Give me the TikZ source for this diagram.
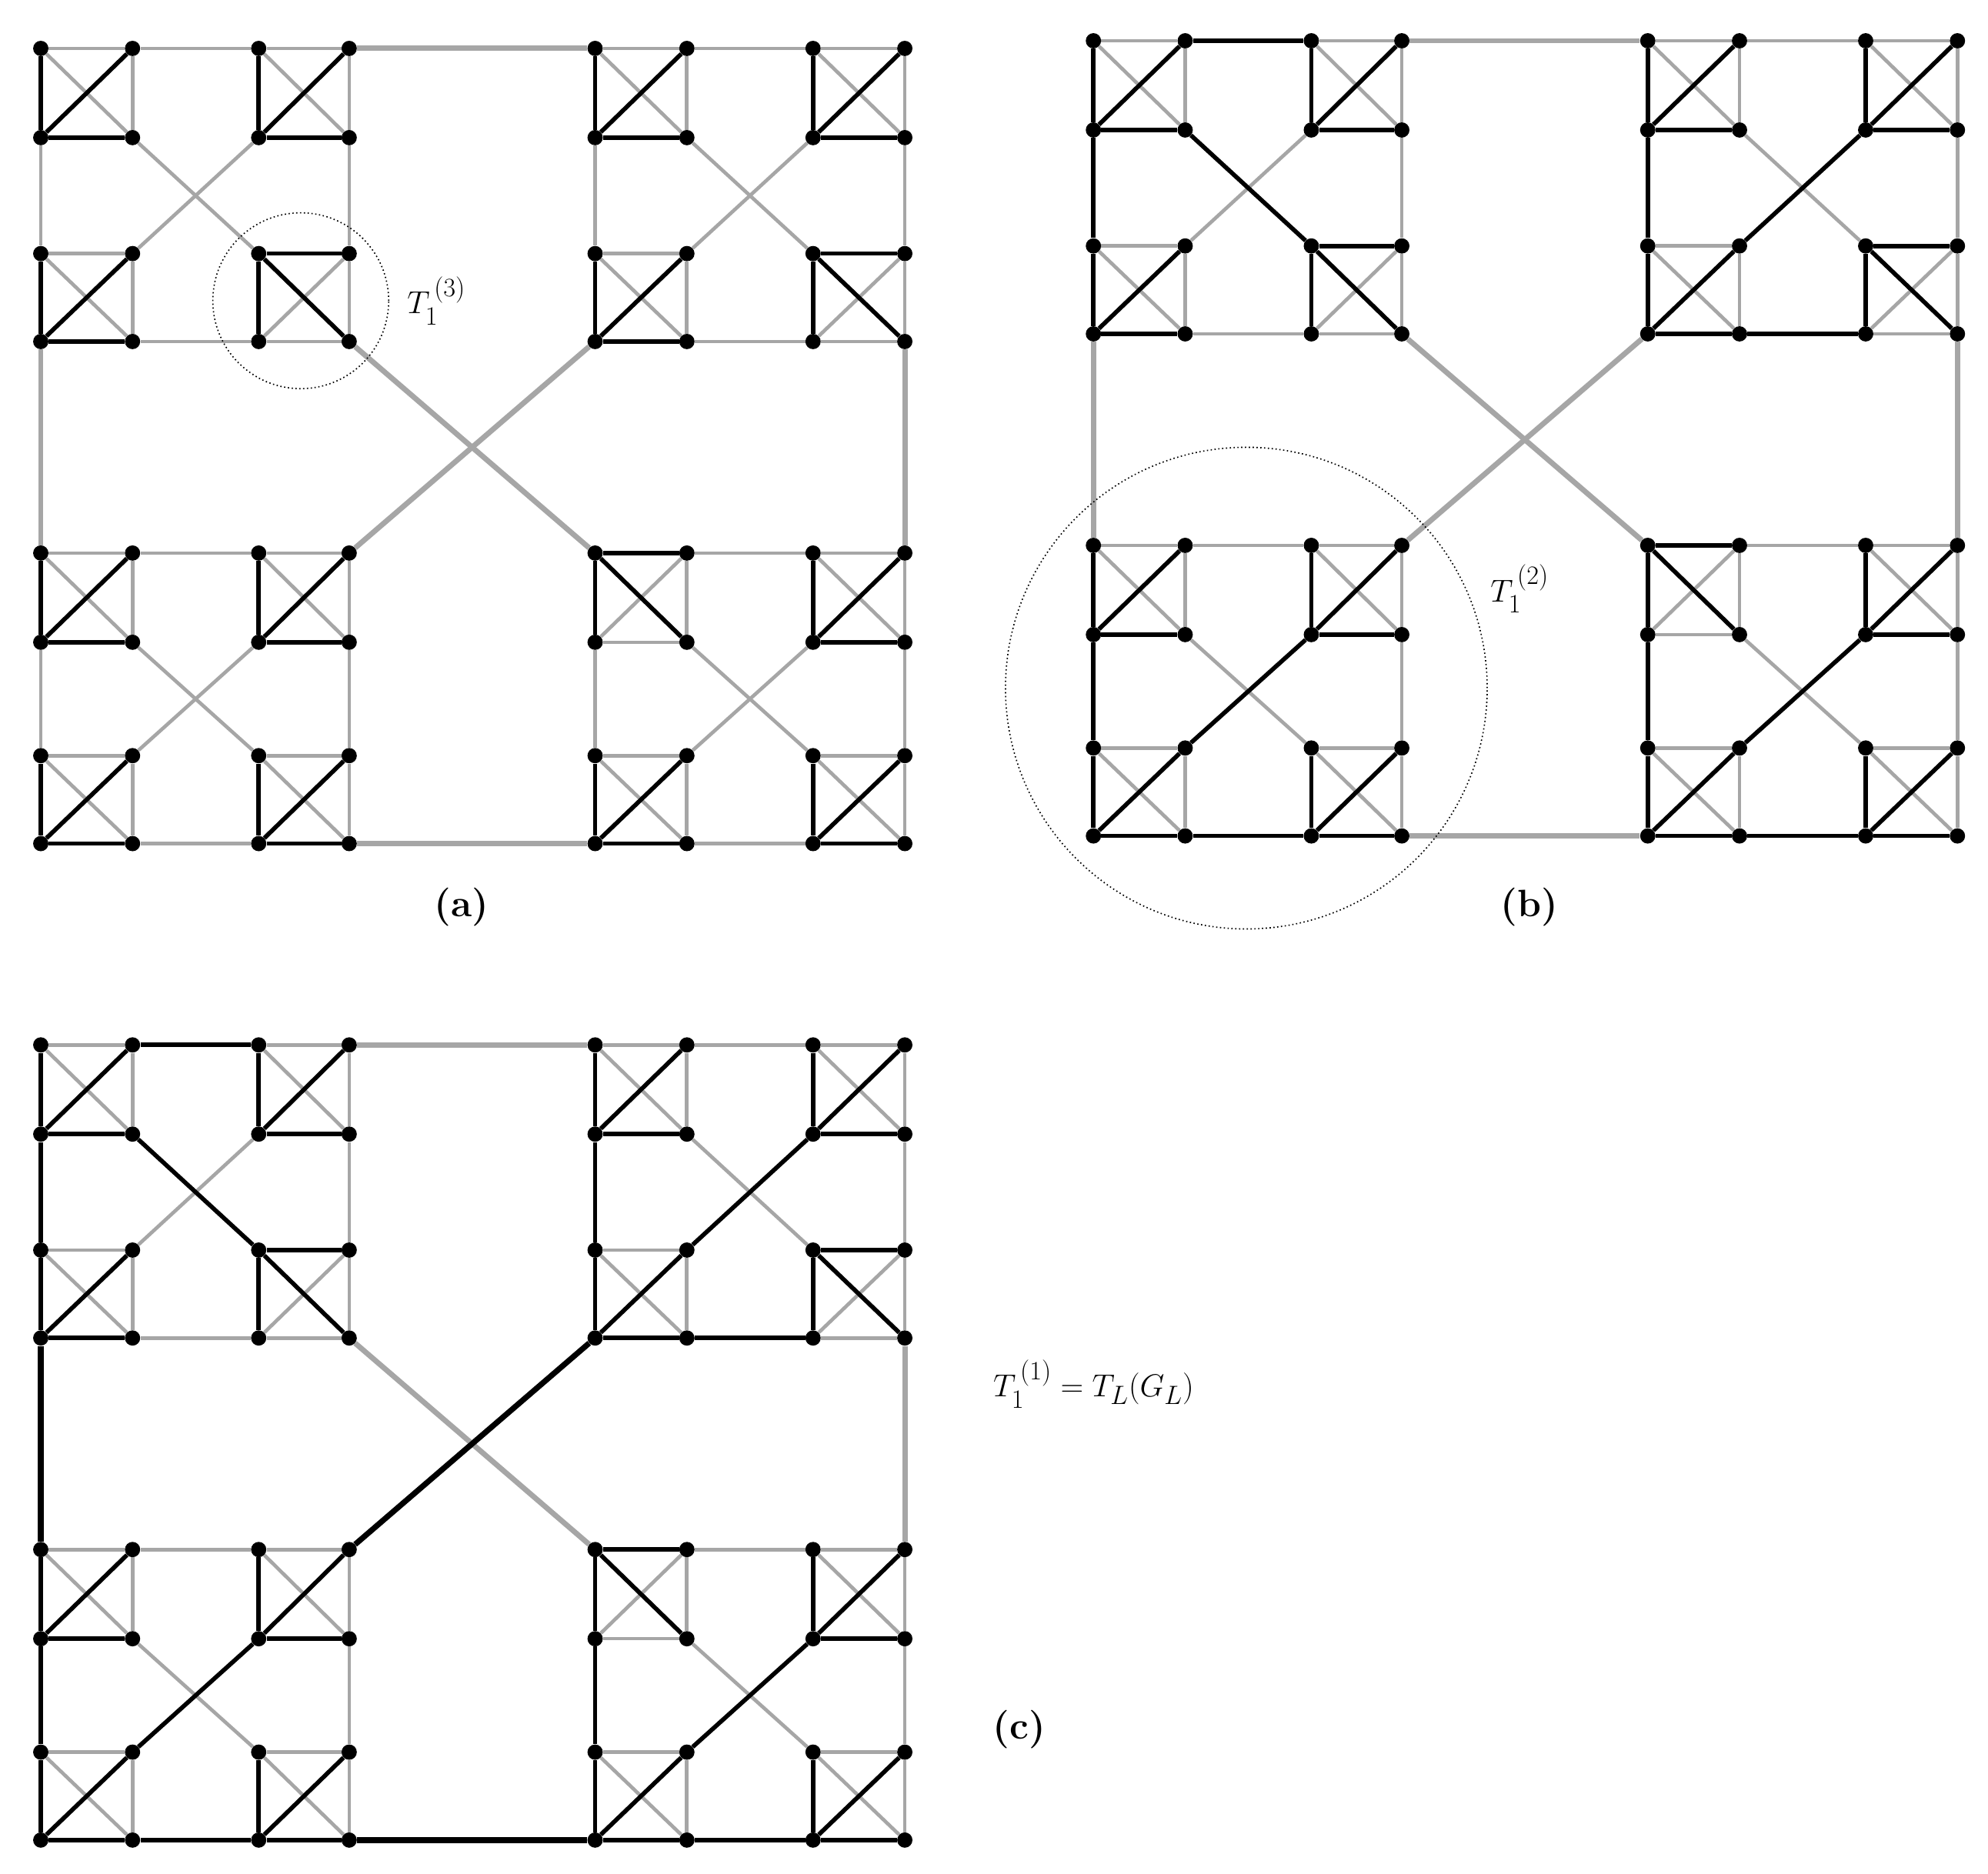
\documentclass[tikz,border=0pt]{standalone}
\usepackage{amsmath}
\pgfdeclarelayer{bg}
\pgfsetlayers{bg,main}
\tikzset{
 dot/.style={circle,fill=black,inner sep=0pt,minimum size=12pt},
 gr/.style={draw=black!35,line width=2.8pt},
 grt/.style={draw=black!35,line width=4.2pt},
 bk/.style={draw=black,line width=3.4pt},
 bkt/.style={draw=black,line width=4.4pt},
 lab/.style={font=\fontsize{30}{34}\selectfont}
}
\def\XA{{0,72,171,242,435,507,606,678}}
\def\YA{{0,70,161,230,396,466,555,624}}
\newcommand\drawpanel[3]{%
 \foreach \i in {0,...,7}{\foreach \j in {0,...,7}{
   \pgfmathsetmacro\xx{#2+\XA[\i]}
   \pgfmathsetmacro\yy{#3+\YA[\j]}
   \node[dot] (#1-\i-\j) at (\xx,\yy) {};}}
 \begin{pgfonlayer}{bg}
 \foreach \a/\b/\t in {0/0/0,2/0/0,0/2/0,2/2/1,4/0/0,6/0/0,4/2/0,6/2/1,0/4/0,2/4/0,0/6/0,2/6/0,4/4/1,6/4/0,4/6/0,6/6/0}{
   \pgfmathtruncatemacro\c{\a+1}\pgfmathtruncatemacro\d{\b+1}
   \draw[gr] (#1-\a-\b)--(#1-\c-\b);
   \draw[gr] (#1-\a-\d)--(#1-\c-\d);
   \draw[gr] (#1-\a-\b)--(#1-\a-\d);
   \draw[gr] (#1-\c-\b)--(#1-\c-\d);
   \draw[gr] (#1-\a-\b)--(#1-\c-\d);
   \draw[gr] (#1-\c-\b)--(#1-\a-\d);
   \ifnum\t=0
    \draw[bk] (#1-\a-\b)--(#1-\a-\d);
    \draw[bk] (#1-\c-\b)--(#1-\a-\d);
    \draw[bk] (#1-\a-\d)--(#1-\c-\d);
   \else
    \draw[bk] (#1-\a-\b)--(#1-\c-\b);
    \draw[bk] (#1-\a-\b)--(#1-\a-\d);
    \draw[bk] (#1-\a-\b)--(#1-\c-\d);
   \fi}
 \foreach \A/\B in {0/0,4/0,0/4,4/4}{
   \pgfmathtruncatemacro\Aa{\A+1}\pgfmathtruncatemacro\Ab{\A+2}\pgfmathtruncatemacro\Ac{\A+3}
   \pgfmathtruncatemacro\Ba{\B+1}\pgfmathtruncatemacro\Bb{\B+2}\pgfmathtruncatemacro\Bc{\B+3}
   \draw[gr] (#1-\Aa-\B)--(#1-\Ab-\B);
   \draw[gr] (#1-\Aa-\Bc)--(#1-\Ab-\Bc);
   \draw[gr] (#1-\A-\Ba)--(#1-\A-\Bb);
   \draw[gr] (#1-\Ac-\Ba)--(#1-\Ac-\Bb);
   \draw[gr] (#1-\Aa-\Ba)--(#1-\Ab-\Bb);
   \draw[gr] (#1-\Ab-\Ba)--(#1-\Aa-\Bb);}
 \draw[grt] (#1-3-0)--(#1-4-0);
 \draw[grt] (#1-3-7)--(#1-4-7);
 \draw[grt] (#1-0-3)--(#1-0-4);
 \draw[grt] (#1-7-3)--(#1-7-4);
 \draw[grt] (#1-3-3)--(#1-4-4);
 \draw[grt] (#1-4-3)--(#1-3-4);
 \end{pgfonlayer}}
\begin{document}
\begin{tikzpicture}[x=1pt,y=-1pt]
\useasboundingbox (0,0) rectangle (1560,1470.6);
\drawpanel{a}{32}{38}
\drawpanel{b}{858}{32}
\drawpanel{c}{32}{820}
\def\extra{1/0/2/0,0/1/0/2,1/1/2/2,4/1/4/2,6/1/5/2,5/3/6/3,0/5/0/6,2/5/1/6,1/7/2/7,4/5/4/6,6/5/5/6,5/7/6/7}
\begin{pgfonlayer}{bg}
\foreach \p/\q/\r/\s in \extra {\draw[bk] (b-\p-\q)--(b-\r-\s); \draw[bk] (c-\p-\q)--(c-\r-\s);}
\draw[bkt] (c-0-3)--(c-0-4);
\draw[bkt] (c-4-3)--(c-3-4);
\draw[bkt] (c-3-7)--(c-4-7);
\end{pgfonlayer}
\node[draw,circle,dotted,line width=1pt,minimum size=138pt] (ca) at (236,236) {};
\node[lab,anchor=west] (ta) at (316,236) {$T_1^{\,(3)}$};
\node[draw,circle,dotted,line width=1pt,minimum size=378pt] (cb) at (978,540) {};
\node[lab,anchor=west] (tb) at (1166,462) {$T_1^{\,(2)}$};
\node[lab,anchor=west] (tc) at (776,1086) {$T_1^{\,(1)}=T_L(G_L)$};
\node[lab] (la) at (362,712) {\textbf{(a)}};
\node[lab] (lb) at (1200,712) {\textbf{(b)}};
\node[lab] (lc) at (800,1357) {\textbf{(c)}};
\end{tikzpicture}
\end{document}
